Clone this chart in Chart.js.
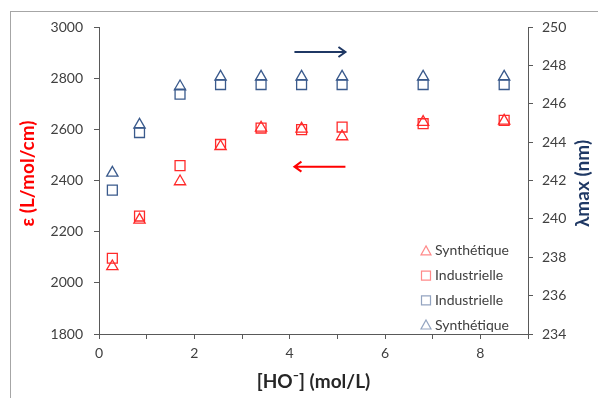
<!DOCTYPE html>
<html>
<head>
<meta charset="utf-8">
<script src="https://cdn.jsdelivr.net/npm/chart.js@4.4.0/dist/chart.umd.min.js"></script>
<style>
  html, body { margin: 0; padding: 0; background: #fff; overflow: hidden; }
  #frame { position: absolute; left: 10px; top: 11px; width: 640px; height: 440px; border: 1px solid #a6a6a6; }
  #wrap { position: absolute; left: 0; top: 0; width: 598px; height: 398px; }
</style>
</head>
<body>
<div id="frame"></div>
<div id="wrap"><canvas id="chart" width="598" height="398"></canvas></div>
<script>
// concentration en HO- (mol/L)
const concHO = [0.28, 0.85, 1.7, 2.55, 3.4, 4.25, 5.1, 6.8, 8.5];
// coefficient d'extinction (axe gauche)
const epsSynth = [2064, 2246, 2396, 2533, 2606, 2602, 2572, 2628, 2633];
const epsIndus = [2096, 2261, 2458, 2541, 2605, 2599, 2609, 2622, 2635];
// longueur d'onde max (axe droit)
const lambdaIndus = [241.5, 244.5, 246.5, 247, 247, 247, 247, 247, 247];
const lambdaSynth = [242.4, 244.9, 246.9, 247.4, 247.4, 247.4, 247.4, 247.4, 247.4];

const xTicks = [0, 2, 4, 6, 8];
const legendLabels = ['Synthétique', 'Industrielle', 'Industrielle', 'Synthétique'];

const RED = '#ff2a2a';
const BLUE = '#3a5a8c';
const NAVY = '#1f3864';

const toPts = (ys) => ys.map((y, i) => ({ x: concHO[i], y: y }));

// flèches indiquant l'axe de chaque série
const arrows = [
  { axis: 'y1', from: 4.1, to: 5.17, at: 248.7, color: NAVY },
  { axis: 'y', from: 5.17, to: 4.1, at: 2454, color: '#ff0000' }
];

const extras = {
  id: 'extras',
  afterDraw(chart) {
    const { ctx, chartArea: ca, scales } = chart;
    ctx.save();

    // flèches
    arrows.forEach(a => {
      const x1 = scales.x.getPixelForValue(a.from);
      const x2 = scales.x.getPixelForValue(a.to);
      const y = scales[a.axis].getPixelForValue(a.at);
      const dir = Math.sign(x2 - x1);
      ctx.strokeStyle = a.color;
      ctx.lineWidth = 2;
      ctx.beginPath();
      ctx.moveTo(x1, y);
      ctx.lineTo(x2, y);
      ctx.moveTo(x2 - dir * 7, y - 5);
      ctx.lineTo(x2, y);
      ctx.lineTo(x2 - dir * 7, y + 5);
      ctx.stroke();
    });

    // titres des axes
    ctx.font = 'bold 19px Lato';
    ctx.textBaseline = 'middle';
    ctx.textAlign = 'center';
    ctx.fillStyle = '#262626';
    ctx.fillText('[HO\u207B] (mol/L)', (ca.left + ca.right) / 2, 382);

    ctx.save();
    ctx.translate(28, (ca.top + ca.bottom) / 2 - 7);
    ctx.rotate(-Math.PI / 2);
    ctx.fillStyle = '#ff0000';
    ctx.fillText('\u03B5 (L/mol/cm)', 0, 0);
    ctx.restore();

    ctx.save();
    ctx.translate(583, (ca.top + ca.bottom) / 2 + 3);
    ctx.rotate(-Math.PI / 2);
    ctx.fillStyle = NAVY;
    ctx.fillText('\u03BBmax (nm)', 0, 0);
    ctx.restore();

    // légende dans la zone du graphique
    ctx.font = '14px Lato';
    ctx.textAlign = 'left';
    const mx = ca.right - 102;
    chart.data.datasets.forEach((ds, i) => {
      const y = ca.bottom - 9 - (3 - i) * 24.7;
      ctx.globalAlpha = 0.55;
      ctx.strokeStyle = ds.borderColor;
      ctx.lineWidth = 1.2;
      ctx.beginPath();
      if (ds.pointStyle === 'rect') {
        ctx.rect(mx - 4.5, y - 4.5, 9, 9);
      } else {
        ctx.moveTo(mx, y - 5);
        ctx.lineTo(mx + 5, y + 4);
        ctx.lineTo(mx - 5, y + 4);
        ctx.closePath();
      }
      ctx.stroke();
      ctx.globalAlpha = 1;
      ctx.fillStyle = '#404040';
      ctx.fillText(legendLabels[i], mx + 9, y);
    });
    ctx.restore();
  }
};

const axisCommon = {
  border: { display: true, color: '#595959', width: 1 },
  grid: { drawOnChartArea: false, drawTicks: true, tickLength: 5, color: '#595959' },
  ticks: { color: '#404040', font: { family: 'Lato', size: 14 } }
};

new Chart(document.getElementById('chart'), {
  type: 'scatter',
  data: {
    datasets: [
      { label: legendLabels[0], data: toPts(epsSynth), yAxisID: 'y', pointStyle: 'triangle', borderColor: RED },
      { label: legendLabels[1], data: toPts(epsIndus), yAxisID: 'y', pointStyle: 'rect', borderColor: RED },
      { label: legendLabels[2], data: toPts(lambdaIndus), yAxisID: 'y1', pointStyle: 'rect', borderColor: BLUE },
      { label: legendLabels[3], data: toPts(lambdaSynth), yAxisID: 'y1', pointStyle: 'triangle', borderColor: BLUE }
    ].map(d => Object.assign(d, {
      backgroundColor: 'rgba(0,0,0,0)',
      pointRadius: d.pointStyle === 'rect' ? 7 : 6.5,
      pointBorderWidth: 1.3,
      showLine: false
    }))
  },
  options: {
    responsive: false,
    animation: false,
    layout: { padding: { top: 27, left: 0, right: 0, bottom: 0 } },
    plugins: { legend: { display: false }, tooltip: { enabled: false } },
    scales: {
      x: Object.assign({}, axisCommon, {
        type: 'linear', min: 0, max: 9,
        ticks: Object.assign({}, axisCommon.ticks, {
          stepSize: 1, padding: 6,
          callback: v => xTicks.includes(v) ? String(v) : ''
        }),
        afterFit(s) { s.height = 64; }
      }),
      y: Object.assign({}, axisCommon, {
        position: 'left', min: 1800, max: 3000,
        ticks: Object.assign({}, axisCommon.ticks, { stepSize: 200, padding: 11, callback: v => String(v) }),
        afterFit(s) { s.width = 99; }
      }),
      y1: Object.assign({}, axisCommon, {
        position: 'right', min: 234, max: 250,
        ticks: Object.assign({}, axisCommon.ticks, { stepSize: 2, padding: 9, callback: v => String(v) }),
        afterFit(s) { s.width = 70; }
      })
    }
  },
  plugins: [extras]
});
</script>
</body>
</html>
